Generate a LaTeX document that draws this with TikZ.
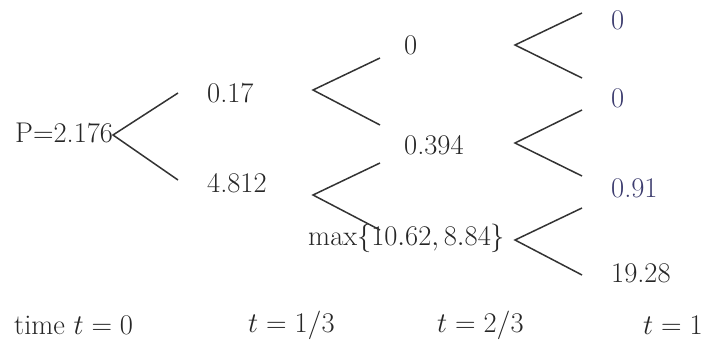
\RequirePackage{fix-cm}
\documentclass[tikz,border=0pt]{standalone}
\begin{document}
\begin{tikzpicture}[x=1pt,y=-1pt,
  lbl/.style={anchor=west,inner sep=0pt,font=\fontsize{28.5}{32}\selectfont,text=black!85},
  fin/.style={lbl,text=finblue},
  fork/.style={draw=black!80,line width=1.5pt}]
\definecolor{finblue}{RGB}{60,60,110}
\useasboundingbox (0,0) rectangle (706,340);
% nodes
\node[lbl] (p) at (15,133) {P=2.176};
\node[lbl] (n1) at (207,93) {0.17};
\node[lbl] (n2) at (207,183) {4.812};
\node[lbl] (m1) at (404,45) {0};
\node[lbl] (m2) at (404,145) {0.394};
\node[lbl] (m3) at (308,238) {$\max\{10.62, 8.84\}$};
\node[fin] (f1) at (611,20) {0};
\node[fin] (f2) at (611,98) {0};
\node[fin] (f3) at (611,188) {0.91};
\node[lbl] (f4) at (611,273) {19.28};
\node[lbl] (t0) at (14,325) {time $t=0$};
\node[lbl] (t1) at (248,325) {$t=1/3$};
\node[lbl] (t2) at (437,325) {$t=2/3$};
\node[lbl] (t3) at (643,325) {$t=1$};
% fork coordinates
\coordinate (a0) at (113,135); \coordinate (a0u) at (178,93); \coordinate (a0d) at (178,180);
\coordinate (b1) at (313,90); \coordinate (b1u) at (380,58); \coordinate (b1d) at (380,125);
\coordinate (b2) at (313,195); \coordinate (b2u) at (380,163); \coordinate (b2d) at (380,230);
\coordinate (c1) at (515,45); \coordinate (c1u) at (582,13); \coordinate (c1d) at (582,78);
\coordinate (c2) at (515,143); \coordinate (c2u) at (582,110); \coordinate (c2d) at (582,176);
\coordinate (c3) at (515,240); \coordinate (c3u) at (582,208); \coordinate (c3d) at (582,275);
% forks
\foreach \f in {a0,b1,b2,c1,c2,c3}{
  \draw[fork] (\f u) -- (\f) -- (\f d);
}
\end{tikzpicture}
\end{document}
